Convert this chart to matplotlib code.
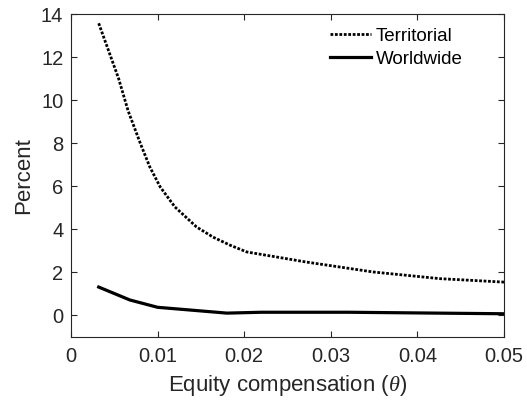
import matplotlib
matplotlib.use('Agg')
from matplotlib import pyplot as plt
import numpy as np

# Data
theta_terr = [0.0032, 0.0055, 0.0066, 0.0080, 0.0091, 0.0103, 0.0120, 0.0145,
              0.0164, 0.0184, 0.0203, 0.0272, 0.0349, 0.0426, 0.050]
territorial = [13.57, 11.0, 9.5, 8.0, 6.9, 5.97, 5.04, 4.11,
               3.64, 3.26, 2.95, 2.48, 2.02, 1.71, 1.55]

theta_world = [0.0032, 0.0068, 0.0100, 0.018, 0.022, 0.032, 0.050]
worldwide = [1.32, 0.72, 0.38, 0.11, 0.15, 0.15, 0.08]

xticks = [0, 0.01, 0.02, 0.03, 0.04, 0.05]
xticklabels = ['0', '0.01', '0.02', '0.03', '0.04', '0.05']
yticks = [0, 2, 4, 6, 8, 10, 12, 14]

plt.rcParams['font.family'] = ['Liberation Sans', 'DejaVu Sans']
plt.rcParams['mathtext.fontset'] = 'custom'
plt.rcParams['mathtext.it'] = 'Liberation Serif:italic'

axcol = '#262626'

fig = plt.figure(figsize=(5.27, 4.04), dpi=100)
ax = fig.add_axes([0.1347, 0.1658, 0.8217, 0.7995])

ax.plot(theta_terr, territorial, color='k', linestyle=(0, (1, 0.6)), linewidth=2.0, label='Territorial')
ax.plot(theta_world, worldwide, color='k', linestyle='-', linewidth=2.3, label='Worldwide')

ax.set_xlim(0, 0.05)
ax.set_ylim(-1, 14)
ax.set_xticks(xticks)
ax.set_xticklabels(xticklabels)
ax.set_yticks(yticks)

ax.tick_params(direction='in', top=True, right=True, length=4, width=0.8,
               colors=axcol, labelsize=14.5)
ax.tick_params(axis='x', pad=7.5)
ax.tick_params(axis='y', pad=5.5)
for sp in ax.spines.values():
    sp.set_color(axcol)
    sp.set_linewidth(0.8)

ax.set_xlabel(r'Equity compensation ($\theta$)', fontsize=16, color=axcol, labelpad=5)
ax.set_ylabel('Percent', fontsize=16, color=axcol, labelpad=5)

leg = ax.legend(loc='upper left', bbox_to_anchor=(0.598, 0.957), frameon=False,
                fontsize=13.5, handlelength=2.2, handletextpad=0.25,
                labelspacing=0.3, borderpad=0, borderaxespad=0)
for t in leg.get_texts():
    t.set_color('k')

fig.savefig('out.png', dpi=100)
